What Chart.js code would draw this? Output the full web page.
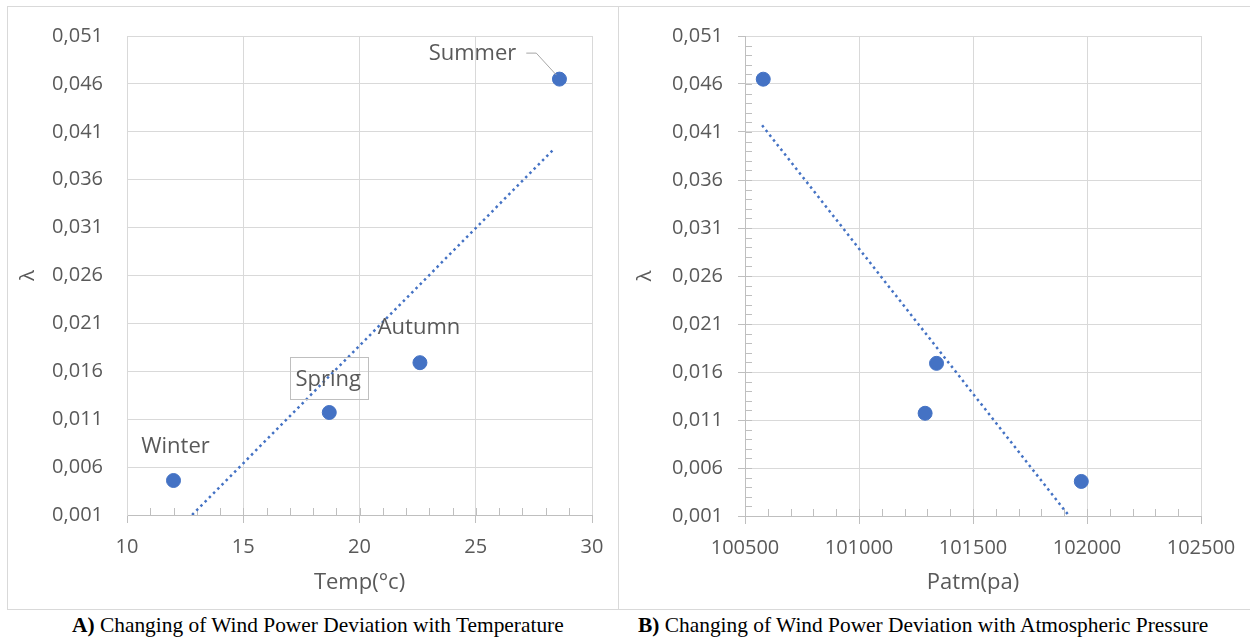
<!DOCTYPE html>
<html>
<head>
<meta charset="utf-8">
<script src="https://cdn.jsdelivr.net/npm/chart.js@4.4.1/dist/chart.umd.min.js"></script>
<style>
  body { margin: 0; background: #fff; width: 1250px; height: 637px; overflow: hidden; position: relative; }
  .frame { position: absolute; border: 1px solid #d9d9d9; box-sizing: border-box; }
  canvas { position: absolute; }
  .caption { position: absolute; top: 613px; font-family: 'Liberation Serif', 'Times New Roman', serif; font-size: 21.4px; line-height: 24px; color: #000; white-space: nowrap; }
</style>
</head>
<body>
<div class="frame" style="left:7px;top:6px;width:612px;height:604px"></div>
<div class="frame" style="left:618px;top:6px;width:640px;height:604px"></div>
<canvas id="temp-chart" width="609" height="602" style="left:8px;top:7px"></canvas>
<canvas id="patm-chart" width="630" height="602" style="left:620px;top:7px"></canvas>
<div class="caption" style="left:72px"><b>A)</b> Changing of Wind Power Deviation with Temperature</div>
<div class="caption" style="left:638px"><b>B)</b> Changing of Wind Power Deviation with Atmospheric Pressure</div>
<script>
const seasons = ['Winter', 'Spring', 'Autumn', 'Summer'];
const tempC = [12.0, 18.7, 22.6, 28.6];
const patmPa = [101975, 101290, 101340, 100580];
const lambdaVals = [0.0046, 0.0117, 0.0169, 0.0465];

// trendline ends
const tempTrendX = [12.8, 28.4];
const tempTrendY = [0.001, 0.0393];
const patmTrendX = [100575, 101915];
const patmTrendY = [0.0417, 0.0012];

const lambdaTicks = [0.001, 0.006, 0.011, 0.016, 0.021, 0.026, 0.031, 0.036, 0.041, 0.046, 0.051];
const tempTicks = [10, 15, 20, 25, 30];
const patmTicks = [100500, 101000, 101500, 102000, 102500];

const BLUE = '#4472C4';
const TEXT = '#595959';
const GRID = '#d9d9d9';
const AXIS = '#bfbfbf';

Chart.defaults.font.family = '"Open Sans", sans-serif';
Chart.defaults.color = TEXT;

// label text centre relative to its point
const labelOffsets = {
  Winter: { dx: 2, dy: -35 },
  Spring: { dx: -1, dy: -34 },
  Autumn: { dx: -1, dy: -36 },
  Summer: { dx: -87, dy: -26 }
};

const seasonLabels = {
  id: 'seasonLabels',
  afterDatasetsDraw(chart, args, opts) {
    if (!opts.show) return;
    const { ctx } = chart;
    const meta = chart.getDatasetMeta(0);
    ctx.save();
    ctx.font = '22px "Open Sans"';
    ctx.fillStyle = TEXT;
    ctx.textAlign = 'center';
    ctx.textBaseline = 'middle';
    meta.data.forEach((pt, i) => {
      const name = seasons[i];
      const off = labelOffsets[name];
      const x = pt.x + off.dx;
      const y = pt.y + off.dy;
      const w = ctx.measureText(name).width;
      if (name === 'Spring') {
        ctx.strokeStyle = AXIS;
        ctx.lineWidth = 1;
        ctx.strokeRect(Math.round(x - w / 2 - 6) + 0.5, Math.round(y - 21) + 0.5, Math.round(w + 12), 42);
      }
      if (name === 'Summer') {
        ctx.strokeStyle = '#a6a6a6';
        ctx.lineWidth = 1;
        ctx.beginPath();
        ctx.moveTo(x + w / 2 + 10, y);
        ctx.lineTo(x + w / 2 + 20, y);
        ctx.lineTo(pt.x - 3, pt.y - 4);
        ctx.stroke();
      }
      ctx.fillText(name, x, y + 1);
    });
    ctx.restore();
  }
};

const minorTicks = {
  id: 'minorTicks',
  beforeDatasetsDraw(chart, args, opts) {
    const { ctx, scales: { x, y } } = chart;
    ctx.save();
    ctx.strokeStyle = AXIS;
    ctx.lineWidth = 1;
    ctx.beginPath();
    if (opts.xStep) {
      const n = Math.round((x.max - x.min) / opts.xStep);
      for (let i = 1; i < n; i++) {
        const px = Math.round(x.getPixelForValue(x.min + i * opts.xStep)) + 0.5;
        ctx.moveTo(px, y.bottom);
        ctx.lineTo(px, y.bottom - 7);
      }
    }
    if (opts.yStep) {
      const n = Math.round((y.max - y.min) / opts.yStep);
      for (let i = 1; i < n; i++) {
        const py = Math.round(y.getPixelForValue(y.min + i * opts.yStep)) + 0.5;
        ctx.moveTo(x.left, py);
        ctx.lineTo(x.left + 7, py);
      }
    }
    ctx.stroke();
    ctx.restore();
  }
};

function makeChart(id, cfg) {
  const points = cfg.xs.map((v, i) => ({ x: v, y: lambdaVals[i] }));
  const trend = cfg.trendX.map((v, i) => ({ x: v, y: cfg.trendY[i] }));
  return new Chart(document.getElementById(id), {
    type: 'scatter',
    data: {
      datasets: [
        { data: points, backgroundColor: BLUE, borderColor: BLUE, pointRadius: 7, pointHoverRadius: 7 },
        { data: trend, showLine: true, borderColor: BLUE, borderWidth: 2.5, borderDash: [2.5, 3.5], pointRadius: 0, fill: false }
      ]
    },
    options: {
      responsive: false,
      animation: false,
      layout: { padding: { top: 29, right: cfg.padRight, left: 0, bottom: 0 } },
      plugins: {
        legend: { display: false },
        tooltip: { enabled: false },
        seasonLabels: { show: cfg.labels },
        minorTicks: { xStep: cfg.xMinor, yStep: cfg.yMinor }
      },
      scales: {
        x: {
          type: 'linear',
          min: cfg.xTicks[0],
          max: cfg.xTicks[cfg.xTicks.length - 1],
          afterBuildTicks: s => { s.ticks = cfg.xTicks.map(v => ({ value: v })); },
          afterFit: s => { s.height = cfg.xHeight; },
          grid: { color: GRID, tickColor: AXIS, tickLength: 8 },
          border: { color: AXIS },
          ticks: { color: TEXT, font: { size: 20 }, padding: 12, maxRotation: 0, callback: v => String(v) },
          title: { display: true, text: cfg.xTitle, color: TEXT, font: { size: 22 }, padding: { top: 0, bottom: 13 } }
        },
        y: {
          type: 'linear',
          min: 0.001,
          max: 0.051,
          afterBuildTicks: s => { s.ticks = lambdaTicks.map(v => ({ value: v })); },
          afterFit: s => { s.width = cfg.yWidth; },
          grid: { color: GRID, tickColor: cfg.yTickColor, tickLength: cfg.yTickLen },
          border: { color: cfg.yTickColor === AXIS ? AXIS : GRID },
          ticks: { color: TEXT, font: { size: 20 }, padding: cfg.yTickPad, callback: v => v.toFixed(3).replace('.', ',') },
          title: { display: true, text: 'λ', color: TEXT, font: { size: 20 }, padding: { top: cfg.yTitlePad, bottom: 0 } }
        }
      }
    },
    plugins: [minorTicks, seasonLabels]
  });
}

makeChart('temp-chart', {
  xs: tempC, trendX: tempTrendX, trendY: tempTrendY, xTicks: tempTicks,
  xTitle: 'Temp(°c)', labels: true, xMinor: 1, yMinor: null,
  yTickColor: 'rgba(0,0,0,0)', yTickLen: 16, yTickPad: 8,
  padRight: 25, yWidth: 119, xHeight: 94, yTitlePad: 8
});

makeChart('patm-chart', {
  xs: patmPa, trendX: patmTrendX, trendY: patmTrendY, xTicks: patmTicks,
  xTitle: 'Patm(pa)', labels: false, xMinor: 100, yMinor: 0.001,
  yTickColor: AXIS, yTickLen: 7, yTickPad: 15,
  padRight: 49, yWidth: 125, xHeight: 93, yTitlePad: 13
});
</script>
</body>
</html>
